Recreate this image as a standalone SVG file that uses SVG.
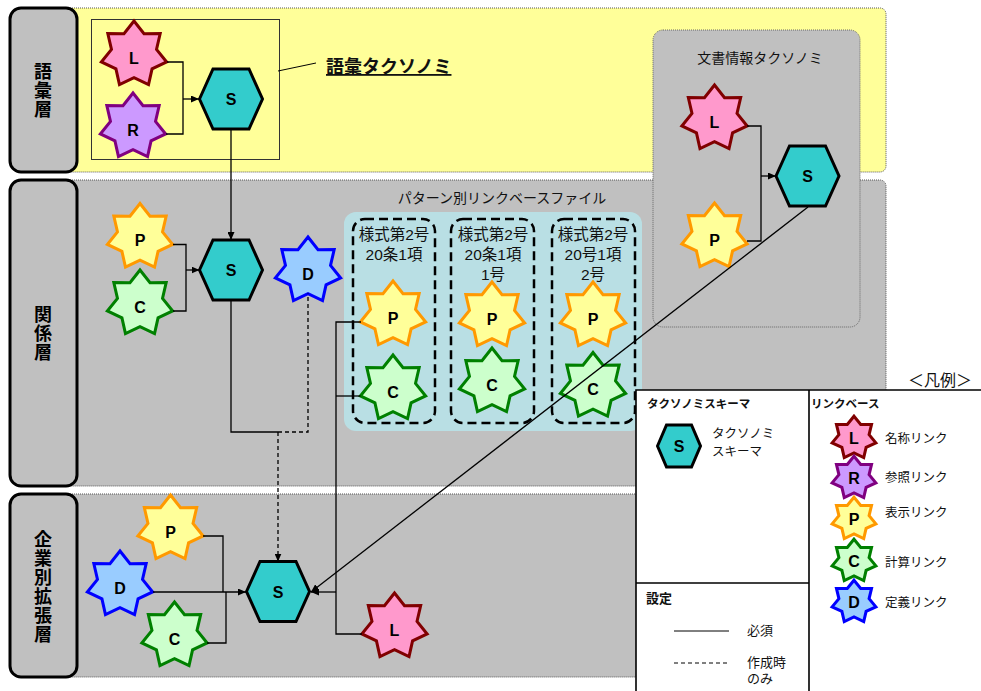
<svg xmlns="http://www.w3.org/2000/svg" xmlns:xlink="http://www.w3.org/1999/xlink" width="981" height="691" viewBox="0 0 981 691">
<style>
.band{stroke:#555;stroke-width:1;stroke-dasharray:1,1}
.lbl{fill:#C0C0C0;stroke:#000;stroke-width:3}
.lt{font-family:"Noto Sans CJK JP",sans-serif;font-weight:bold;font-size:18px;text-anchor:middle;writing-mode:vertical-rl;letter-spacing:1px}
.jp{font-family:"Liberation Sans","Noto Sans CJK JP",sans-serif;fill:#111}
.sL{fill:#FF99CC;stroke:#800000}
.sR{fill:#CC99FF;stroke:#800080}
.sP{fill:#FFFF99;stroke:#FF9900}
.sC{fill:#CCFFCC;stroke:#008000}
.sD{fill:#99CCFF;stroke:#0000FF}
.hex{fill:#33CCCC;stroke:#000;stroke-width:3}
.let{font-family:"Liberation Sans",sans-serif;font-weight:bold;font-size:16px;text-anchor:middle;fill:#000}
.con{fill:none;stroke:#000;stroke-width:1.3}
.dash{stroke-dasharray:4,3}
.pbox{fill:none;stroke:#000;stroke-width:2.5;stroke-dasharray:9,5}
</style>
<defs>
<polygon id="star" stroke-width="3" vector-effect="non-scaling-stroke" points="0,-33.5 10.02,-20.81 26.19,-20.89 22.52,-5.14 32.66,7.45 18.06,14.4 14.54,30.18 0,23.1 -14.54,30.18 -18.06,14.4 -32.66,7.45 -22.52,-5.14 -26.19,-20.89 -10.02,-20.81"/>
<polygon id="hex" points="-31.5,0 -18,-30 18,-30 31.5,0 18,30 -18,30"/>
<marker id="arr" viewBox="0 0 8 7" refX="8" refY="3.5" markerWidth="8" markerHeight="7" markerUnits="userSpaceOnUse" orient="auto">
<path d="M0,0 L8,3.5 L0,7 z" fill="#000"/>
</marker>
</defs>
<rect width="981" height="691" fill="#fff"/>

<g id="bands">
<rect class="band" x="60" y="8" width="826" height="164" rx="6" fill="#FFFF99"/>
<rect class="band" x="60" y="180" width="826" height="306" rx="6" fill="#C0C0C0"/>
<rect class="band" x="60" y="494" width="826" height="183" rx="6" fill="#C0C0C0"/>
</g>

<g id="layer-goi">
<rect class="lbl" x="10" y="8" width="67" height="164" rx="11"/>
<text class="lt" x="43" y="91">語彙層</text>
</g>
<g id="layer-kankei">
<rect class="lbl" x="10" y="180" width="67" height="306" rx="11"/>
<text class="lt" x="43" y="334">関係層</text>
</g>
<g id="layer-kigyo">
<rect class="lbl" x="10" y="494" width="67" height="183" rx="11"/>
<text class="lt" x="43" y="587">企業別拡張層</text>
</g>

<g id="goi-taxonomy">
<rect x="91.5" y="19.5" width="188" height="140" fill="none" stroke="#333" stroke-width="1"/>
<line x1="278" y1="71" x2="316" y2="63" stroke="#000" stroke-width="1"/>
<text class="jp" x="326" y="73" font-size="18" font-weight="bold" text-decoration="underline" fill="#000">語彙タクソノミ</text>
</g>

<g id="bunsho-taxonomy">
<rect x="653" y="30" width="207" height="297" rx="10" fill="#C0C0C0" stroke="#666" stroke-width="1" stroke-dasharray="1,1"/>
<text class="jp" x="760" y="63" font-size="14" text-anchor="middle">文書情報タクソノミ</text>
</g>

<g id="pattern-files">
<rect x="344" y="212" width="298" height="219" rx="12" fill="#B9DFE4"/>
<text class="jp" x="502" y="203" font-size="14" text-anchor="middle">パターン別リンクベースファイル</text>
<rect class="pbox" x="353" y="219" width="82" height="204" rx="12"/>
<rect class="pbox" x="451" y="219" width="83" height="204" rx="12"/>
<rect class="pbox" x="552" y="219" width="83" height="204" rx="12"/>
<text class="jp" font-size="15.5" text-anchor="middle"><tspan x="394" y="240">様式第2号</tspan><tspan x="394" y="260">20条1項</tspan></text>
<text class="jp" font-size="15.5" text-anchor="middle"><tspan x="493" y="240">様式第2号</tspan><tspan x="493" y="260">20条1項</tspan><tspan x="493" y="280">1号</tspan></text>
<text class="jp" font-size="15.5" text-anchor="middle"><tspan x="593" y="240">様式第2号</tspan><tspan x="593" y="260">20号1項</tspan><tspan x="593" y="280">2号</tspan></text>
</g>

<!-- 語彙層 nodes -->
<g id="goi-L" transform="translate(134,54.5)"><use href="#star" class="sL"/><text class="let" y="9">L</text></g>
<g id="goi-R" transform="translate(133,126.5)"><use href="#star" class="sR"/><text class="let" y="9">R</text></g>
<g id="goi-S" transform="translate(231,99)"><use href="#hex" class="hex"/><text class="let" y="6">S</text></g>

<!-- 文書情報 nodes -->
<g id="doc-L" transform="translate(714.5,118.5)"><use href="#star" class="sL"/><text class="let" y="9">L</text></g>
<g id="doc-P" transform="translate(714.5,236.5)"><use href="#star" class="sP"/><text class="let" y="9">P</text></g>
<g id="doc-S" transform="translate(807.5,176)"><use href="#hex" class="hex"/><text class="let" y="6">S</text></g>

<!-- 関係層 nodes -->
<g id="rel-P" transform="translate(140,237)"><use href="#star" class="sP"/><text class="let" y="9">P</text></g>
<g id="rel-C" transform="translate(140,303.5)"><use href="#star" class="sC"/><text class="let" y="9">C</text></g>
<g id="rel-S" transform="translate(231,270)"><use href="#hex" class="hex"/><text class="let" y="6">S</text></g>
<g id="rel-D" transform="translate(308,270.5)"><use href="#star" class="sD"/><text class="let" y="9">D</text></g>

<!-- pattern nodes -->
<g id="pat1-P" transform="translate(393,314.5)"><use href="#star" class="sP"/><text class="let" y="9">P</text></g>
<g id="pat1-C" transform="translate(393,388.5)"><use href="#star" class="sC"/><text class="let" y="9">C</text></g>
<g id="pat2-P" transform="translate(492,315.5)"><use href="#star" class="sP"/><text class="let" y="9">P</text></g>
<g id="pat2-C" transform="translate(492,381.5)"><use href="#star" class="sC"/><text class="let" y="9">C</text></g>
<g id="pat3-P" transform="translate(593,315.5)"><use href="#star" class="sP"/><text class="let" y="9">P</text></g>
<g id="pat3-C" transform="translate(593,386)"><use href="#star" class="sC"/><text class="let" y="9">C</text></g>

<!-- 企業別拡張層 nodes -->
<g id="ent-P" transform="translate(170.5,528.5)"><use href="#star" class="sP"/><text class="let" y="9">P</text></g>
<g id="ent-D" transform="translate(120,584.5)"><use href="#star" class="sD"/><text class="let" y="9">D</text></g>
<g id="ent-C" transform="translate(174.5,635.5)"><use href="#star" class="sC"/><text class="let" y="9">C</text></g>
<g id="ent-S" transform="translate(278,591.5)"><use href="#hex" class="hex"/><text class="let" y="6">S</text></g>
<g id="ent-L" transform="translate(394.5,626.5)"><use href="#star" class="sL"/><text class="let" y="9">L</text></g>

<g id="connectors">
<path class="con" d="M167,62 H183 V134 H166"/>
<path class="con" d="M183,99 H199" marker-end="url(#arr)"/>
<path class="con" d="M231,129 V240" marker-end="url(#arr)"/>
<path class="con" d="M173,244.5 H186 V311 H173"/>
<path class="con" d="M186,270 H199.5" marker-end="url(#arr)"/>
<path class="con" d="M747,126 H761 V241 H747"/>
<path class="con" d="M761,176 H776" marker-end="url(#arr)"/>
<path class="con" d="M231,300 V432 H278"/>
<path class="con dash" d="M278,432 H308 V293.5"/>
<path class="con dash" d="M278,432 V561.5" marker-end="url(#arr)"/>
<path class="con" d="M361,322 H336 V634 H362"/>
<path class="con" d="M360.5,396 H336"/>
<path class="con" d="M336,592 H311" marker-end="url(#arr)"/>
<path class="con" d="M808,207 L311,592" marker-end="url(#arr)"/>
<path class="con" d="M203,536 H223 V592"/>
<path class="con" d="M207,643 H226 V592"/>
<path class="con" d="M153,592 H246" marker-end="url(#arr)"/>
</g>

<g id="legend">
<text class="jp" x="940" y="386" font-size="16" text-anchor="middle">＜凡例＞</text>
<rect x="636" y="390" width="345" height="301" fill="#fff"/>
<path d="M636,691 V390 H981 M809,390 V691 M636,583 H809" fill="none" stroke="#000" stroke-width="1.6"/>
<text class="jp" x="647" y="408" font-size="11.5" font-weight="bold" fill="#000">タクソノミスキーマ</text>
<g id="lg-S" transform="translate(679,446)"><polygon class="hex" points="-21.5,0 -12.5,-21 12.5,-21 21.5,0 12.5,21 -12.5,21" stroke-width="2.5"/><text class="let" y="5.5" font-size="14">S</text></g>
<text class="jp" font-size="12.5"><tspan x="712" y="438">タクソノミ</tspan><tspan x="712" y="456">スキーマ</tspan></text>
<text class="jp" x="811" y="408" font-size="11.5" font-weight="bold" fill="#000">リンクベース</text>
<g id="lg-L" transform="translate(854,438)"><use href="#star" class="sL" transform="scale(0.67,0.65)"/><text class="let" y="6" font-size="14">L</text></g>
<g id="lg-R" transform="translate(854,478)"><use href="#star" class="sR" transform="scale(0.67,0.65)"/><text class="let" y="6" font-size="14">R</text></g>
<g id="lg-P" transform="translate(854,519)"><use href="#star" class="sP" transform="scale(0.67,0.65)"/><text class="let" y="6" font-size="14">P</text></g>
<g id="lg-C" transform="translate(854,561)"><use href="#star" class="sC" transform="scale(0.67,0.65)"/><text class="let" y="6" font-size="14">C</text></g>
<g id="lg-D" transform="translate(854,602)"><use href="#star" class="sD" transform="scale(0.67,0.65)"/><text class="let" y="6" font-size="14">D</text></g>
<text class="jp" font-size="12.5"><tspan x="885" y="443">名称リンク</tspan><tspan x="885" y="482">参照リンク</tspan><tspan x="885" y="517">表示リンク</tspan><tspan x="885" y="567">計算リンク</tspan><tspan x="885" y="607">定義リンク</tspan></text>
<text class="jp" x="646" y="603" font-size="13" font-weight="bold" fill="#000">設定</text>
<line x1="674" y1="631" x2="729" y2="631" stroke="#000" stroke-width="1"/>
<line x1="674" y1="663" x2="729" y2="663" stroke="#000" stroke-width="1" stroke-dasharray="4,3"/>
<text class="jp" font-size="13"><tspan x="747" y="635">必須</tspan><tspan x="747" y="667">作成時</tspan><tspan x="747" y="683">のみ</tspan></text>
</g>
</svg>
